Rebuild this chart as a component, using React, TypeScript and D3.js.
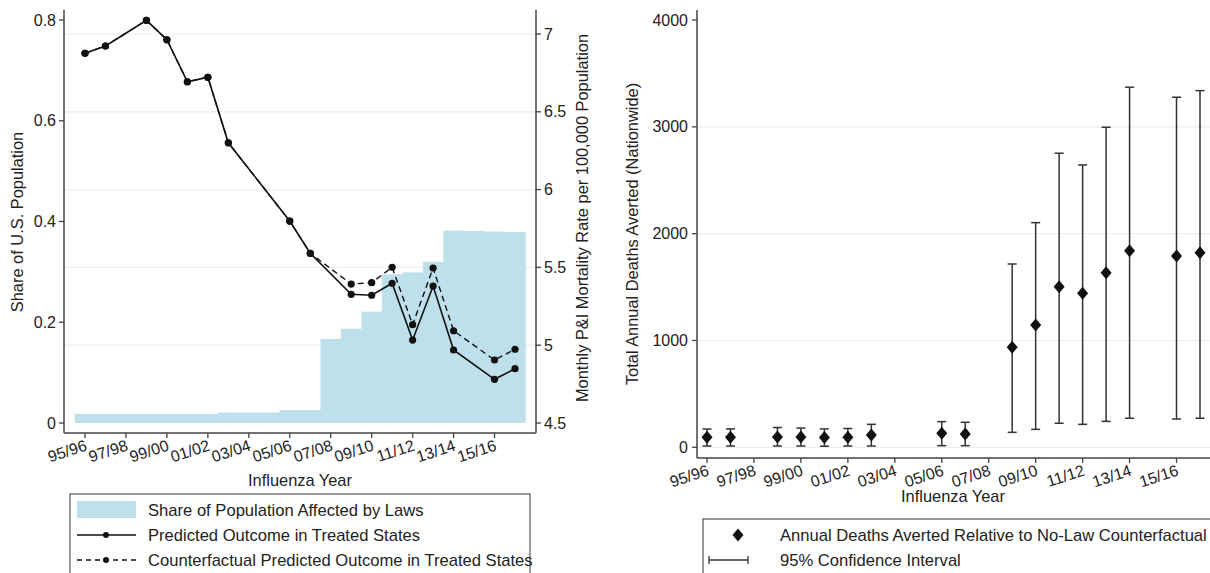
import React from "react";
import * as d3 from "d3";

// influenza years, 1995/96 .. 2016/17
const years = [
  "95/96", "96/97", "97/98", "98/99", "99/00", "00/01", "01/02", "02/03",
  "03/04", "04/05", "05/06", "06/07", "07/08", "08/09", "09/10", "10/11",
  "11/12", "12/13", "13/14", "14/15", "15/16", "16/17",
];
const tickYears = ["95/96", "97/98", "99/00", "01/02", "03/04", "05/06", "07/08", "09/10", "11/12", "13/14", "15/16"];

// share of population affected by laws (left axis)
const share = [
  0.018, 0.018, 0.018, 0.018, 0.018, 0.018, 0.018, 0.021, 0.021, 0.021, 0.026,
  0.026, 0.167, 0.187, 0.221, 0.295, 0.299, 0.32, 0.382, 0.381, 0.38, 0.379,
];
// mortality rate per 100,000 (right axis), null = missing year
const predicted = [
  6.876, 6.923, null, 7.088, 6.963, 6.693, 6.722, 6.301, null, null, 5.798,
  5.591, null, 5.327, 5.321, 5.398, 5.033, 5.38, 4.969, null, 4.781, 4.849,
];
const counterfactual = [
  6.876, 6.923, null, 7.088, 6.963, 6.693, 6.722, 6.301, null, null, 5.798,
  5.591, null, 5.393, 5.402, 5.501, 5.132, 5.496, 5.093, null, 4.905, 4.974,
];
const shareTicks = [0, 0.2, 0.4, 0.6, 0.8];
const rateTicks = [4.5, 5, 5.5, 6, 6.5, 7];

// deaths averted (right panel)
const avertedYears = ["95/96", "96/97", "98/99", "99/00", "00/01", "01/02", "02/03", "05/06", "06/07", "08/09", "09/10", "10/11", "11/12", "12/13", "13/14", "15/16", "16/17"];
const avertedEst = [94, 95, 96, 96, 92, 94, 115, 131, 125, 936, 1145, 1504, 1442, 1635, 1841, 1791, 1822];
const avertedLo = [12, 12, 12, 12, 10, 12, 12, 15, 15, 140, 168, 225, 215, 243, 272, 265, 272];
const avertedHi = [171, 172, 185, 180, 172, 176, 215, 240, 234, 1716, 2103, 2753, 2643, 2996, 3371, 3277, 3339];
const deathTicks = [0, 1000, 2000, 3000, 4000];

const FONT = '"Liberation Sans", Arial, Helvetica, sans-serif';
const AXIS = "#444";
const GRID = "#e8f0f1";
const FILL = "#bde0ea";
const INK = "#111";
const TICK_FS = 16;
const LEG_FS = 16.6;

export default function App() {
  const idx = (y: string) => years.indexOf(y);

  // left panel scales
  const xL = d3.scaleLinear().domain([0, 21]).range([85, 515]);
  const yShare = d3.scaleLinear().domain([0, 0.8]).range([423, 20]);
  const yRate = d3.scaleLinear().domain([4.5, 7]).range([423, 34]);
  const leftAxisX = 64, rightAxisX = 536, bottomL = 433, topY = 10;

  // right panel scales
  const xR = d3.scaleLinear().domain([0, 21]).range([707, 1200]);
  const yD = d3.scaleLinear().domain([0, 4000]).range([447.3, 20]);
  const axisRX = 697, bottomR = 458;

  const pts = (arr: (number | null)[]) =>
    arr.map((v, i) => ({ i, v })).filter((d) => d.v !== null) as { i: number; v: number }[];
  const line = d3.line<{ i: number; v: number }>().x((d) => xL(d.i)).y((d) => yRate(d.v));

  const predPts = pts(predicted);
  const cfPts = pts(counterfactual);

  const diamond = (cx: number, cy: number) =>
    `M${cx},${cy - 6.5}L${cx + 5.5},${cy}L${cx},${cy + 6.5}L${cx - 5.5},${cy}Z`;

  return (
    <svg
      width={1210}
      height={573}
      style={{ position: "absolute", left: 0, top: 0, background: "#fff" }}
      fontFamily={FONT}
    >
      {/* ---------- left panel ---------- */}
      {rateTicks.slice(1).map((t) => (
        <line key={t} x1={leftAxisX} x2={rightAxisX} y1={yRate(t)} y2={yRate(t)} stroke={GRID} strokeWidth={1.2} />
      ))}
      {share.map((s, i) => (
        <rect
          key={i}
          x={xL(i - 0.5)}
          width={xL(i + 0.5) - xL(i - 0.5) + 0.5}
          y={yShare(s)}
          height={yShare(0) - yShare(s)}
          fill={FILL}
        />
      ))}
      <path d={line(cfPts) || ""} fill="none" stroke={INK} strokeWidth={1.4} strokeDasharray="6,4" />
      <path d={line(predPts) || ""} fill="none" stroke={INK} strokeWidth={1.6} />
      {cfPts.map((d) => (
        <circle key={"c" + d.i} cx={xL(d.i)} cy={yRate(d.v)} r={3.6} fill={INK} />
      ))}
      {predPts.map((d) => (
        <circle key={"p" + d.i} cx={xL(d.i)} cy={yRate(d.v)} r={3.6} fill={INK} />
      ))}

      {/* axes */}
      <line x1={leftAxisX} x2={leftAxisX} y1={topY} y2={bottomL} stroke={AXIS} strokeWidth={1.5} />
      <line x1={rightAxisX} x2={rightAxisX} y1={topY} y2={bottomL} stroke={AXIS} strokeWidth={1.5} />
      <line x1={leftAxisX} x2={rightAxisX} y1={bottomL} y2={bottomL} stroke={AXIS} strokeWidth={1.5} />
      {shareTicks.map((t) => (
        <g key={t} transform={`translate(${leftAxisX},${yShare(t)})`}>
          <line x1={-5} x2={0} stroke={AXIS} strokeWidth={1.3} />
          <text x={-8} dy="0.35em" textAnchor="end" fontSize={TICK_FS} fill="#222">{t}</text>
        </g>
      ))}
      {rateTicks.map((t) => (
        <g key={t} transform={`translate(${rightAxisX},${yRate(t)})`}>
          <line x1={0} x2={5} stroke={AXIS} strokeWidth={1.3} />
          <text x={8} dy="0.35em" textAnchor="start" fontSize={TICK_FS} fill="#222">{t}</text>
        </g>
      ))}
      {tickYears.map((y) => (
        <g key={y}>
          <line x1={xL(idx(y))} x2={xL(idx(y))} y1={bottomL} y2={bottomL + 5} stroke={AXIS} strokeWidth={1.3} />
          <text
            transform={`translate(${xL(idx(y)) + 3},${bottomL + 17}) rotate(-18)`}
            textAnchor="end"
            fontSize={TICK_FS}
            fill="#222"
          >
            {y}
          </text>
        </g>
      ))}
      <text transform={`translate(23,222) rotate(-90)`} textAnchor="middle" fontSize={16.4} fill="#222">
        Share of U.S. Population
      </text>
      <text transform={`translate(588,218) rotate(-90)`} textAnchor="middle" fontSize={16.4} fill="#222">
        Monthly P&amp;I Mortality Rate per 100,000 Population
      </text>
      <text x={300} y={486} textAnchor="middle" fontSize={16.4} fill="#222">Influenza Year</text>

      {/* legend left */}
      <rect x={70} y={494} width={460} height={100} fill="none" stroke="#555" strokeWidth={1.2} />
      <rect x={77} y={501} width={59} height={17} fill={FILL} />
      <line x1={77} x2={136} y1={535} y2={535} stroke={INK} strokeWidth={1.5} />
      <circle cx={106} cy={535} r={3} fill={INK} />
      <line x1={77} x2={136} y1={560} y2={560} stroke={INK} strokeWidth={1.3} strokeDasharray="5,4" />
      <circle cx={106} cy={560} r={3} fill={INK} />
      <text x={148} y={510} dy="0.35em" fontSize={LEG_FS} fill="#222">Share of Population Affected by Laws</text>
      <text x={148} y={535} dy="0.35em" fontSize={LEG_FS} fill="#222">Predicted Outcome in Treated States</text>
      <text x={148} y={560} dy="0.35em" fontSize={LEG_FS} fill="#222">Counterfactual Predicted Outcome in Treated States</text>

      {/* ---------- right panel ---------- */}
      {deathTicks.slice(0, 4).map((t) => (
        <line key={t} x1={axisRX} x2={1210} y1={yD(t)} y2={yD(t)} stroke={GRID} strokeWidth={1.2} />
      ))}
      {avertedYears.map((y, k) => {
        const cx = xR(idx(y));
        return (
          <g key={y}>
            <line x1={cx} x2={cx} y1={yD(avertedLo[k])} y2={yD(avertedHi[k])} stroke="#333" strokeWidth={1.5} />
            <line x1={cx - 4.5} x2={cx + 4.5} y1={yD(avertedLo[k])} y2={yD(avertedLo[k])} stroke="#333" strokeWidth={1.5} />
            <line x1={cx - 4.5} x2={cx + 4.5} y1={yD(avertedHi[k])} y2={yD(avertedHi[k])} stroke="#333" strokeWidth={1.5} />
            <path d={diamond(cx, yD(avertedEst[k]))} fill={INK} />
          </g>
        );
      })}
      <line x1={axisRX} x2={axisRX} y1={topY} y2={bottomR} stroke={AXIS} strokeWidth={1.5} />
      <line x1={axisRX} x2={1210} y1={bottomR} y2={bottomR} stroke={AXIS} strokeWidth={1.5} />
      {deathTicks.map((t) => (
        <g key={t} transform={`translate(${axisRX},${yD(t)})`}>
          <line x1={-5} x2={0} stroke={AXIS} strokeWidth={1.3} />
          <text x={-9} dy="0.35em" textAnchor="end" fontSize={TICK_FS} fill="#222">{t}</text>
        </g>
      ))}
      {tickYears.map((y) => (
        <g key={y}>
          <line x1={xR(idx(y))} x2={xR(idx(y))} y1={bottomR} y2={bottomR + 5} stroke={AXIS} strokeWidth={1.3} />
          <text
            transform={`translate(${xR(idx(y)) + 3},${bottomR + 17}) rotate(-18)`}
            textAnchor="end"
            fontSize={TICK_FS}
            fill="#222"
          >
            {y}
          </text>
        </g>
      ))}
      <text transform={`translate(638,234) rotate(-90)`} textAnchor="middle" fontSize={16.4} fill="#222">
        Total Annual Deaths Averted (Nationwide)
      </text>
      <text x={953} y={502} textAnchor="middle" fontSize={16.4} fill="#222">Influenza Year</text>

      {/* legend right */}
      <rect x={703} y={519} width={520} height={80} fill="none" stroke="#555" strokeWidth={1.2} />
      <path d={diamond(738, 535)} fill={INK} />
      <line x1={709} x2={748} y1={560} y2={560} stroke="#333" strokeWidth={1.3} />
      <line x1={709} x2={709} y1={556} y2={564} stroke="#333" strokeWidth={1.3} />
      <line x1={748} x2={748} y1={556} y2={564} stroke="#333" strokeWidth={1.3} />
      <text x={780} y={535} dy="0.35em" fontSize={LEG_FS} fill="#222">Annual Deaths Averted Relative to No-Law Counterfactual</text>
      <text x={780} y={560} dy="0.35em" fontSize={LEG_FS} fill="#222">95% Confidence Interval</text>
    </svg>
  );
}
